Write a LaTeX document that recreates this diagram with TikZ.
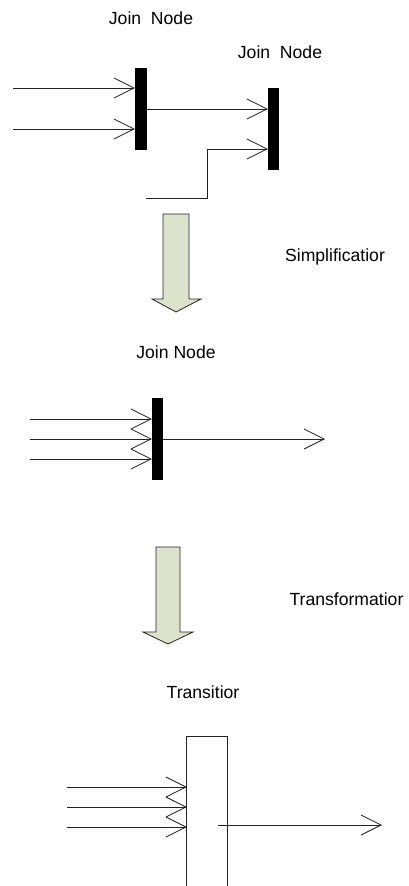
\documentclass[tikz,border=0pt]{standalone}
\usepackage{fontspec}
\setmainfont{Liberation Sans}
\usetikzlibrary{arrows.meta, positioning, calc}
\definecolor{blockfill}{RGB}{221,226,204}
\definecolor{lineclr}{HTML}{222222}

\begin{document}
\begin{tikzpicture}[x=1pt, y=-1pt,
    bar/.style={fill=black, minimum width=12pt, minimum height=82pt, inner sep=0pt},
    lbl/.style={font=\fontsize{17.6}{20}\selectfont, inner sep=0pt},
    flow/.style={line width=0.8pt, lineclr, -{Straight Barb[length=20pt, width=20pt, line width=0.8pt]}},
    plain/.style={line width=0.8pt, lineclr},
    block/.style={fill=blockfill, draw=lineclr, line width=0.8pt, line join=miter}]
\useasboundingbox (0,0) rectangle (409,886);

% Top: two join nodes
\node[lbl] (lbl1) at (151,18) {Join\ \ Node};
\node[lbl] (lbl2) at (280,52) {Join\ \ Node};
\node[bar] (jn1) at (141,109) {};
\node[bar, minimum width=11pt] (jn2) at (273.5,129) {};
\coordinate (a1) at (13,88);
\coordinate (a2) at (13,129);
\coordinate (b0) at (146,198);
\draw[flow] (a1) -- (a1 -| jn1.west);
\draw[flow] (a2) -- (a2 -| jn1.west);
\draw[flow] (jn1.east) -- (jn1.east -| jn2.west);
\draw[flow] (b0) -- ++(61,0) |- ($(jn2.west)+(0,20)$);

% Simplification arrow
\draw[block] (163,214) -- (189,214) -- (189,299) -- (201,299) -- (176,312)
    -- (152,299) -- (163,299) -- cycle;
\node[lbl] (simp) at (335,257) {Simplificatior};

% Middle: one join node
\node[lbl] (lbl3) at (176,352) {Join Node};
\node[bar, minimum width=11pt] (jn3) at (157.5,439) {};
\coordinate (out3) at (325,439);
\foreach \dy in {-20,0,20}
  \draw[flow] ($(jn3.west)+(-122,\dy)$) -- ($(jn3.west)+(0,\dy)$);
\draw[flow] (jn3.east) -- (out3);

% Transformation arrow
\draw[block] (156,547) -- (180,547) -- (180,632) -- (193,632) -- (168,644)
    -- (143,632) -- (156,632) -- cycle;
\node[lbl] (trans) at (346.5,599) {Transformatior};

% Bottom: transition
\node[lbl] (lbl4) at (203,692) {Transitior};
\node[minimum width=40pt, minimum height=149pt, inner sep=0pt] (tr) at (207,811.5) {};
\draw[plain] (tr.south west) -- (tr.north west) -- (tr.north east) -- (tr.south east);
\foreach \y in {787,807,827}
  \draw[flow] (67,\y) -- (tr.west |- 0,\y);
\coordinate (t0) at ($(tr.center)+(11,13.5)$);
\coordinate (out4) at (382,825);
\draw[flow] (t0) -- (out4);
\end{tikzpicture}
\end{document}
